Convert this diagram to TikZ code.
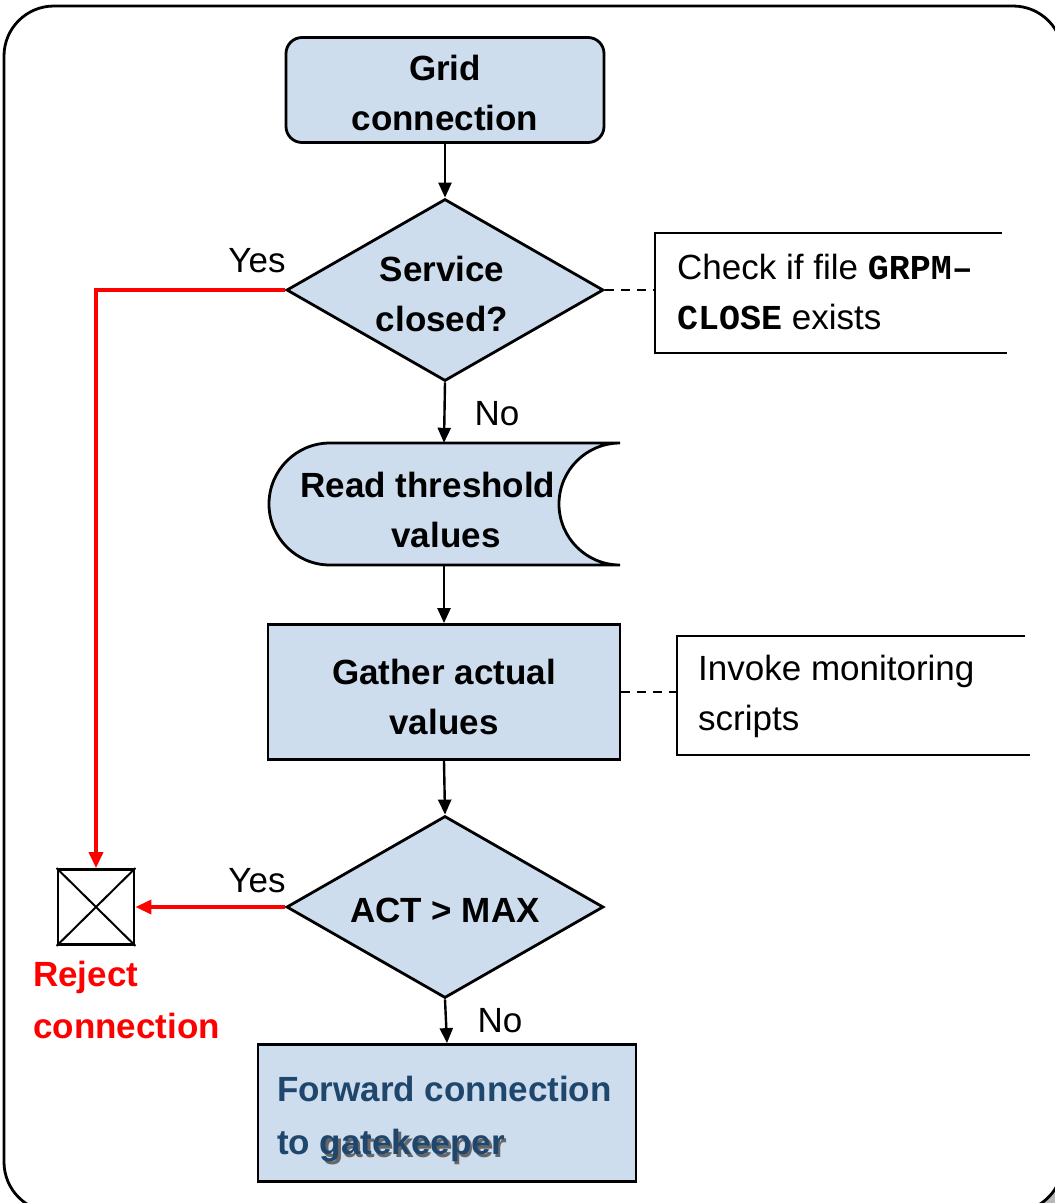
\documentclass[tikz,border=0pt]{standalone}
\usepackage{fontspec}
\setmainfont{Liberation Sans}
\setmonofont{Liberation Mono}
\usetikzlibrary{arrows.meta,shapes.geometric}
\definecolor{boxfill}{RGB}{205,221,237}
\definecolor{fwdtext}{RGB}{31,70,108}
\definecolor{rejred}{RGB}{255,0,0}
\tikzset{
  txt/.style={font=\fontsize{35}{50}\selectfont, inner sep=0pt},
  btxt/.style={font=\fontsize{35}{50}\selectfont\bfseries, inner sep=0pt},
  shapebox/.style={draw, line width=2.8pt, fill=boxfill, inner sep=0pt},
  decision/.style={shapebox, diamond, shape aspect=1.74, minimum width=317, minimum height=182},
  flow/.style={line width=2.4pt, -{Triangle[length=15pt,width=13pt]}},
  rflow/.style={line width=3.5pt, draw=rejred, -{Triangle[length=16pt,width=14pt]}, color=rejred},
  note/.style={txt, align=left, anchor=west},
  bracket/.style={line width=2.4pt},
  dashlink/.style={line width=1.8pt, dash pattern=on 9pt off 7pt}
}
\begin{document}
\begin{tikzpicture}[x=1pt, y=-1pt]
\useasboundingbox (0,0) rectangle (1055,1203);
\clip (0,0) rectangle (1055,1203);
\fill[white] (0,0) rectangle (1055,1203);
% outer frame with shadow
\fill[black!28, rounded corners=50] (12,14) rectangle (1071,1220);
\draw[line width=2.8pt, fill=white, rounded corners=50] (4,6) rectangle (1063,1212);

% shapes
\node[shapebox, rounded corners=16, minimum width=318, minimum height=105] (grid) at (445,90) {};
\node[btxt, align=center] (gridtext) at (445,93) {Grid\\connection};
\node[decision] (svc) at (445,290) {};
\node[btxt, align=center] (svctext) at (442,294) {Service\\closed?};
\node[minimum width=352, minimum height=122, inner sep=0pt] (rt) at (444,504) {};
\fill[boxfill] (620,443) -- (330,443) arc[start angle=90, end angle=270, radius=61pt]
  -- (620,565) arc[start angle=270, end angle=90, radius=61pt] -- cycle;
\draw[line width=2.8pt] (620,443) -- (330,443) arc[start angle=90, end angle=270, radius=61pt]
  -- (620,565) arc[start angle=270, end angle=90, radius=61pt];
\node[btxt, align=center] (rttext) at (428,510) {Read threshold\\\hspace*{36pt}values};
\node[shapebox, minimum width=352, minimum height=135] (gather) at (444,692) {};
\node[btxt, align=center] (gathertext) at (444,697) {Gather actual\\values};
\node[decision] (act) at (445,907) {};
\node[btxt] (acttext) at (445,910) {ACT > MAX};
\node[shapebox, minimum width=378, minimum height=137] (fwd) at (447,1113) {};
\node[font=\fontsize{35}{53}\selectfont\bfseries, inner sep=0pt, text=fwdtext, align=left, anchor=west] (fwdtext)
  at (277,1121) {Forward connection\\to {\color{black!60}\rlap{\hspace{2.5pt}\raisebox{-3pt}{gatekeeper}}}gatekeeper};
\node[draw, line width=2.8pt, minimum width=76, minimum height=75, inner sep=0pt] (rej) at (96,907) {};
\draw[line width=2pt] (rej.north west) -- (rej.south east) (rej.north east) -- (rej.south west);
\node[font=\fontsize{35}{52}\selectfont\bfseries, inner sep=0pt, text=rejred, align=left, anchor=north west] (rejtext) at (33,961) {Reject\\connection};

% notes
\draw[bracket] (1002,233) -- (655,233) -- (655,353) -- (1007,353);
\coordinate (n1) at (655,290);
\node[note] (note1) at (677,292) {Check if file \texttt{\textbf{GRPM–}}\\\texttt{\textbf{CLOSE}} exists};
\draw[bracket] (1025,636) -- (677,636) -- (677,755) -- (1030,755);
\coordinate (n2) at (677,692);
\node[note] (note2) at (698,696) {Invoke monitoring\\scripts};
\draw[dashlink] (svc.east) -- (n1);
\draw[dashlink] (gather.east) -- (n2);

% connectors
\draw[flow] (grid.south) -- (svc.north);
\draw[flow] (svc.south) -- (rt.north);
\draw[flow] (rt.south) -- (gather.north);
\draw[flow] (gather.south) -- (act.north);
\draw[flow] (act.south) -- (fwd.north);
\draw[rflow] (svc.west) -| (rej.north);
\draw[rflow] (act.west) -- (rej.east);

% labels
\node[txt] (yes1) at (257,261) {Yes};
\node[txt] (no1) at (497,414) {No};
\node[txt] (yes2) at (257,881) {Yes};
\node[txt] (no2) at (500,1021) {No};
\end{tikzpicture}
\end{document}
